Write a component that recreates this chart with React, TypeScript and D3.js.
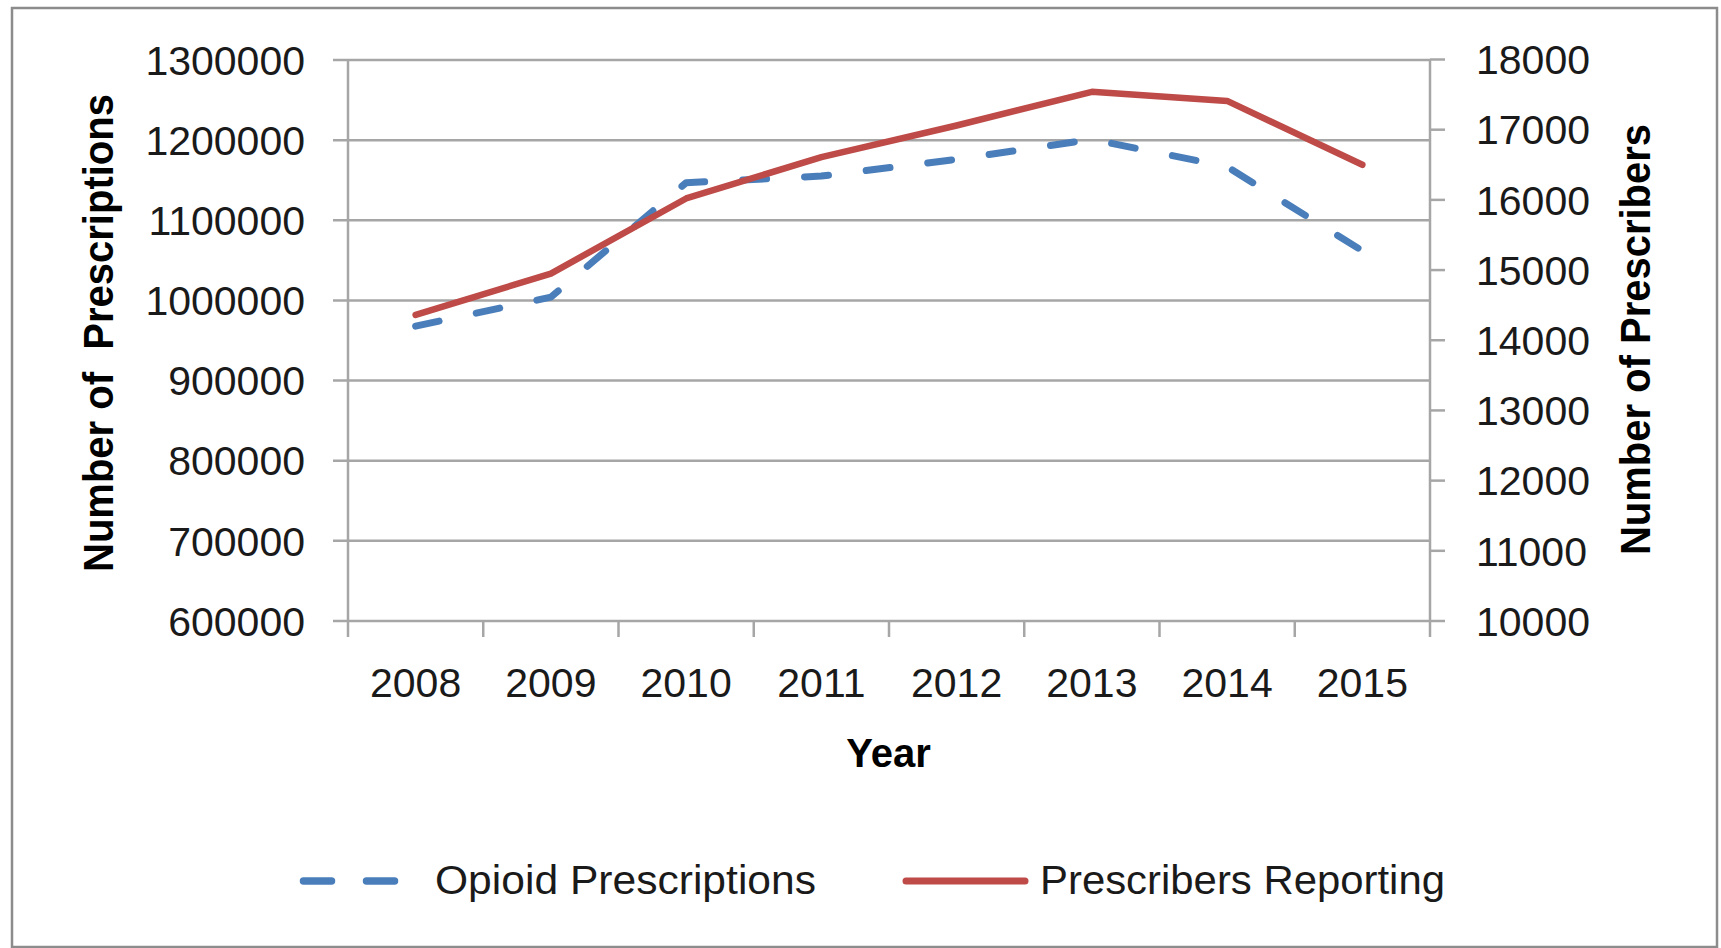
import * as d3 from "d3";
import { useEffect, useRef } from "react";

const YEARS = ["2008", "2009", "2010", "2011", "2012", "2013", "2014", "2015"];
const OPIOID_PRESCRIPTIONS = [967900, 1004100, 1146800, 1155200, 1176000, 1201000, 1166800, 1061900];
const PRESCRIBERS_REPORTING = [14360, 14950, 16020, 16610, 17060, 17540, 17410, 16500];
const LEFT_TICKS = [600000, 700000, 800000, 900000, 1000000, 1100000, 1200000, 1300000];
const RIGHT_TICKS = [10000, 11000, 12000, 13000, 14000, 15000, 16000, 17000, 18000];

const W = 1721;
const H = 948;
const BLUE = "#4a7ebb";
const RED = "#be4b48";
const GRID = "#a6a6a6";
const TEXT = "#1a1a1a";
const FONT = "'Liberation Sans', Arial, sans-serif";

export default function App() {
  const ref = useRef<SVGSVGElement | null>(null);

  useEffect(() => {
    const svg = d3.select(ref.current);
    svg.selectAll("*").remove();

    const left = 348;
    const right = 1430;
    const top = 60;
    const bottom = 621;

    const x = d3.scaleBand<string>().domain(YEARS).range([left, right]);
    const yL = d3.scaleLinear().domain([600000, 1300000]).range([bottom, top]);
    const yR = d3.scaleLinear().domain([10000, 18000]).range([bottom, top - 0.5]);

    // chart frame
    svg.append("rect")
      .attr("x", 12).attr("y", 8)
      .attr("width", 1705).attr("height", 939)
      .attr("fill", "white")
      .attr("stroke", "#8c8c8c")
      .attr("stroke-width", 2.5);

    // horizontal gridlines + left ticks
    LEFT_TICKS.forEach((t) => {
      svg.append("line")
        .attr("x1", left - 15).attr("x2", right)
        .attr("y1", yL(t)).attr("y2", yL(t))
        .attr("stroke", GRID).attr("stroke-width", 2.5);
      svg.append("text")
        .attr("x", 305).attr("y", yL(t))
        .attr("dy", "0.36em")
        .attr("text-anchor", "end")
        .attr("font-family", FONT).attr("font-size", 41)
        .attr("fill", TEXT)
        .text(String(t));
    });

    // right axis
    svg.append("line")
      .attr("x1", right).attr("x2", right)
      .attr("y1", yR(18000)).attr("y2", bottom + 16)
      .attr("stroke", GRID).attr("stroke-width", 2.5);
    RIGHT_TICKS.forEach((t) => {
      svg.append("line")
        .attr("x1", right).attr("x2", right + 15)
        .attr("y1", yR(t)).attr("y2", yR(t))
        .attr("stroke", GRID).attr("stroke-width", 2.5);
      svg.append("text")
        .attr("x", 1476).attr("y", yR(t))
        .attr("dy", "0.36em")
        .attr("text-anchor", "start")
        .attr("font-family", FONT).attr("font-size", 41)
        .attr("fill", TEXT)
        .text(String(t));
    });

    // left axis
    svg.append("line")
      .attr("x1", left).attr("x2", left)
      .attr("y1", top).attr("y2", bottom + 16)
      .attr("stroke", GRID).attr("stroke-width", 2.5);

    // x ticks at band edges
    YEARS.forEach((yr, i) => {
      if (i > 0) {
        const bx = x(yr) as number;
        svg.append("line")
          .attr("x1", bx).attr("x2", bx)
          .attr("y1", bottom).attr("y2", bottom + 16)
          .attr("stroke", GRID).attr("stroke-width", 2.5);
      }
      svg.append("text")
        .attr("x", (x(yr) as number) + x.bandwidth() / 2)
        .attr("y", 697)
        .attr("text-anchor", "middle")
        .attr("font-family", FONT).attr("font-size", 41)
        .attr("fill", TEXT)
        .text(yr);
    });

    // axis titles
    svg.append("text")
      .attr("transform", "translate(113,572) rotate(-90)")
      .attr("font-family", FONT).attr("font-size", 43).attr("font-weight", "bold")
      .attr("fill", "#000")
      .attr("textLength", 478).attr("lengthAdjust", "spacingAndGlyphs")
      .attr("xml:space", "preserve")
      .style("white-space", "pre")
      .text("Number of  Prescriptions");

    svg.append("text")
      .attr("transform", "translate(1650,555) rotate(-90)")
      .attr("font-family", FONT).attr("font-size", 43).attr("font-weight", "bold")
      .attr("fill", "#000")
      .attr("textLength", 431).attr("lengthAdjust", "spacingAndGlyphs")
      .text("Number of Prescribers");

    svg.append("text")
      .attr("x", 888.5).attr("y", 767)
      .attr("text-anchor", "middle")
      .attr("font-family", FONT).attr("font-size", 40).attr("font-weight", "bold")
      .attr("fill", "#000")
      .text("Year");

    const cx = (d: string) => (x(d) as number) + x.bandwidth() / 2;

    // series lines
    const lineL = d3.line<number>().x((_, i) => cx(YEARS[i])).y((d) => yL(d));
    const lineR = d3.line<number>().x((_, i) => cx(YEARS[i])).y((d) => yR(d));

    svg.append("path")
      .attr("d", lineL(OPIOID_PRESCRIPTIONS) ?? "")
      .attr("fill", "none")
      .attr("stroke", BLUE)
      .attr("stroke-width", 7)
      .attr("stroke-linecap", "round")
      .attr("stroke-linejoin", "round")
      .attr("stroke-dasharray", "24 38");

    svg.append("path")
      .attr("d", lineR(PRESCRIBERS_REPORTING) ?? "")
      .attr("fill", "none")
      .attr("stroke", RED)
      .attr("stroke-width", 6.5)
      .attr("stroke-linecap", "round")
      .attr("stroke-linejoin", "round");

    // legend
    const ly = 881;
    svg.append("line")
      .attr("x1", 303.5).attr("x2", 394.5)
      .attr("y1", ly).attr("y2", ly)
      .attr("stroke", BLUE).attr("stroke-width", 7.5)
      .attr("stroke-linecap", "round")
      .attr("stroke-dasharray", "28 35");
    svg.append("text")
      .attr("x", 435).attr("y", 894)
      .attr("font-family", FONT).attr("font-size", 41)
      .attr("fill", TEXT)
      .attr("textLength", 381).attr("lengthAdjust", "spacingAndGlyphs")
      .text("Opioid Prescriptions");

    svg.append("line")
      .attr("x1", 906).attr("x2", 1025)
      .attr("y1", ly).attr("y2", ly)
      .attr("stroke", RED).attr("stroke-width", 7)
      .attr("stroke-linecap", "round");
    svg.append("text")
      .attr("x", 1040).attr("y", 894)
      .attr("font-family", FONT).attr("font-size", 41)
      .attr("fill", TEXT)
      .attr("textLength", 405).attr("lengthAdjust", "spacingAndGlyphs")
      .text("Prescribers Reporting");
  }, []);

  return (
    <svg
      ref={ref}
      width={W}
      height={H}
      style={{ position: "absolute", left: 0, top: 0, display: "block" }}
    />
  );
}
